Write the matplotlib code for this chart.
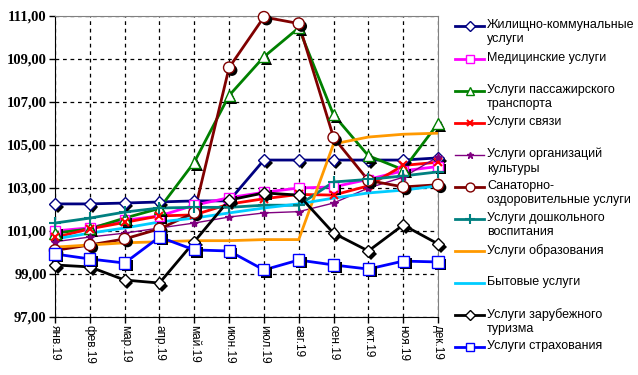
import matplotlib
matplotlib.use("Agg")
import matplotlib.pyplot as plt
import matplotlib.patheffects as pe
from matplotlib.lines import Line2D

months = ['янв.19', 'фев.19', 'мар.19', 'апр.19', 'май.19', 'июн.19',
          'июл.19', 'авг.19', 'сен.19', 'окт.19', 'ноя.19', 'дек.19']

housing = [102.26, 102.26, 102.30, 102.35, 102.40, 102.40, 104.30, 104.30, 104.30, 104.30, 104.30, 104.40]
medical = [101.00, 101.15, 101.50, 101.70, 102.20, 102.55, 102.80, 103.00, 103.05, 103.40, 103.80, 104.00]
transport = [100.90, 101.10, 101.60, 102.05, 104.20, 107.30, 109.10, 110.45, 106.40, 104.50, 103.85, 106.00]
communication = [100.70, 101.10, 101.40, 101.70, 101.75, 102.25, 102.50, 102.70, 102.67, 103.10, 104.05, 104.20]
culture = [100.50, 100.72, 100.90, 101.14, 101.37, 101.65, 101.84, 101.90, 102.30, 103.00, 103.50, 104.45]
sanatorium = [100.10, 100.35, 100.63, 101.10, 101.85, 108.60, 110.95, 110.65, 105.35, 103.35, 103.05, 103.15]
preschool = [101.37, 101.60, 101.88, 102.07, 102.10, 102.10, 102.20, 102.20, 103.28, 103.40, 103.56, 103.75]
education = [100.25, 100.35, 100.45, 100.50, 100.55, 100.55, 100.60, 100.60, 105.05, 105.37, 105.50, 105.55]
household = [100.63, 100.90, 101.14, 101.42, 101.60, 101.84, 102.07, 102.26, 102.53, 102.77, 102.90, 103.10]
tourism = [99.42, 99.33, 98.72, 98.58, 100.50, 102.44, 102.77, 102.67, 100.90, 100.07, 101.28, 100.40]
insurance = [99.93, 99.70, 99.51, 100.72, 100.12, 100.07, 99.19, 99.65, 99.42, 99.23, 99.60, 99.56]

labels = ['Жилищно-коммунальные\nуслуги', 'Медицинские услуги',
          'Услуги пассажирского\nтранспорта', 'Услуги связи',
          'Услуги организаций\nкультуры', 'Санаторно-\nоздоровительные услуги',
          'Услуги дошкольного\nвоспитания', 'Услуги образования',
          'Бытовые услуги', 'Услуги зарубежного\nтуризма', 'Услуги страхования']

yticks = [97, 99, 101, 103, 105, 107, 109, 111]
ytick_labels = ['97,00', '99,00', '101,00', '103,00', '105,00', '107,00', '109,00', '111,00']

series = [housing, medical, transport, communication, culture, sanatorium,
          preschool, education, household, tourism, insurance]
styles = [
    dict(color='#000080', marker='D', ms=6, mfc='white', lw=2),
    dict(color='#FF00FF', marker='s', ms=7, mfc='white', lw=2),
    dict(color='#008000', marker='^', ms=8, mfc='white', lw=2),
    dict(color='#FF0000', marker='x', ms=6, mfc='none', lw=2),
    dict(color='#800080', marker='*', ms=6, mfc='#800080', lw=1),
    dict(color='#800000', marker='o', ms=8, mfc='white', lw=2),
    dict(color='#008080', marker='+', ms=9, mfc='none', lw=2),
    dict(color='#FF9900', marker=None, ms=0, mfc='none', lw=2),
    dict(color='#00CCFF', marker=None, ms=0, mfc='none', lw=2),
    dict(color='#000000', marker='D', ms=6, mfc='white', lw=2),
    dict(color='#0000FF', marker='s', ms=8, mfc='white', lw=2),
]

W, H = 638, 375
fig = plt.figure(figsize=(W / 100, H / 100), dpi=100)
ax = fig.add_axes([55 / W, 1 - 317 / H, (438 - 55) / W, (317 - 16) / H])

shadow = [pe.SimplePatchShadow(offset=(2, -2), shadow_rgbFace='black', alpha=1.0), pe.Normal()]

x = list(range(len(months)))
for data, st in zip(series, styles):
    mew = 1.5 if st['marker'] in ('x', '+') else 1.0
    ax.plot(x, data, color=st['color'], lw=st['lw'], zorder=3)
    if st['marker']:
        mk = ax.plot(x, data, ls='none', marker=st['marker'], ms=st['ms'],
                     mfc=st['mfc'], mec=st['color'], mew=mew, zorder=4,
                     clip_on=False)[0]
        if st['mfc'] == 'white':
            mk.set_path_effects(shadow)

ax.set_xlim(0, len(months) - 1)
ax.set_ylim(97, 111)
ax.set_yticks(yticks)
ax.set_yticklabels(ytick_labels, fontfamily='Liberation Serif', fontweight='bold', fontsize=10.5)
ax.set_xticks(x)
ax.set_xticklabels(months, rotation=270, fontfamily='Liberation Sans', fontsize=8.5)
ax.grid(True, color='black', linestyle=(0, (3, 3)), linewidth=0.9)
ax.set_axisbelow(True)
for s in ('top', 'right'):
    ax.spines[s].set_color('#808080')
for s in ('left', 'bottom'):
    ax.spines[s].set_color('black')
ax.tick_params(axis='y', length=4, width=1, pad=2)
ax.tick_params(axis='x', length=4, width=1, pad=2)

# legend (manual, handle aligned with first text line)
lax = fig.add_axes([0, 0, 1, 1], facecolor='none')
lax.set_xlim(0, W)
lax.set_ylim(H, 0)
lax.axis('off')
ys = [26, 59, 91, 123, 155, 187, 219, 251, 283, 315, 347]
for lab, st, yy in zip(labels, styles, ys):
    mew = 1.5 if st['marker'] in ('x', '+') else 1.0
    lax.add_line(Line2D([455, 484], [yy, yy], color=st['color'], lw=st['lw']))
    if st['marker']:
        lax.plot([469.5], [yy], marker=st['marker'], ms=st['ms'] * 0.8,
                 mfc=st['mfc'], mec=st['color'], mew=mew, ls='none')
    lax.text(487, yy - 7, lab, fontfamily='Liberation Sans', fontsize=9,
             va='top', ha='left', linespacing=1.25)

fig.savefig('out.png', dpi=100)
